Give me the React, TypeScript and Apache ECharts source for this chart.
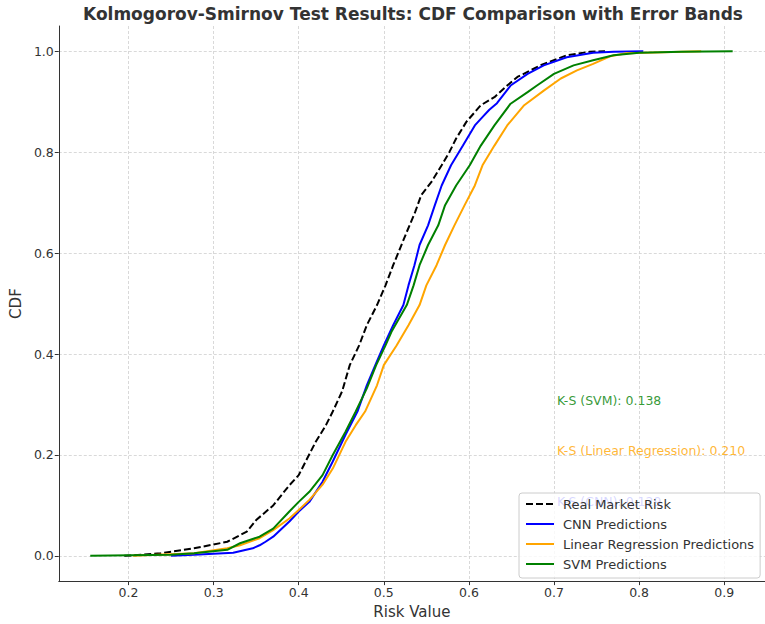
import React, { useEffect, useRef } from "react";
import * as echarts from "echarts";

const TITLE = "Kolmogorov-Smirnov Test Results: CDF Comparison with Error Bands";
const X_TICKS = [0.2, 0.3, 0.4, 0.5, 0.6, 0.7, 0.8, 0.9];
const Y_TICKS = [0.0, 0.2, 0.4, 0.6, 0.8, 1.0];

const REAL_X = [0.195, 0.238, 0.277, 0.316, 0.339, 0.35, 0.37, 0.389, 0.4, 0.409, 0.42, 0.432, 0.44, 0.451, 0.46, 0.471, 0.48, 0.492, 0.502, 0.511, 0.519, 0.527, 0.537, 0.544, 0.556, 0.568, 0.577, 0.585, 0.597, 0.614, 0.63, 0.645, 0.657, 0.684, 0.715, 0.742, 0.76];
const REAL_Y = [0.0, 0.005, 0.015, 0.028, 0.048, 0.071, 0.1, 0.14, 0.16, 0.19, 0.226, 0.259, 0.286, 0.326, 0.378, 0.417, 0.457, 0.497, 0.536, 0.576, 0.609, 0.642, 0.682, 0.715, 0.741, 0.774, 0.8, 0.827, 0.86, 0.893, 0.909, 0.932, 0.949, 0.972, 0.992, 0.999, 1.0];

const CNN_X = [0.25, 0.277, 0.323, 0.346, 0.354, 0.361, 0.37, 0.389, 0.4, 0.4125, 0.428, 0.44, 0.455, 0.469, 0.48, 0.49, 0.5, 0.511, 0.523, 0.529, 0.536, 0.542, 0.552, 0.56, 0.568, 0.579, 0.593, 0.607, 0.614, 0.624, 0.633, 0.649, 0.669, 0.688, 0.715, 0.746, 0.77, 0.805];
const CNN_Y = [0.0, 0.002, 0.006, 0.015, 0.021, 0.028, 0.038, 0.068, 0.088, 0.107, 0.147, 0.187, 0.24, 0.286, 0.338, 0.378, 0.417, 0.457, 0.497, 0.536, 0.576, 0.616, 0.655, 0.695, 0.734, 0.774, 0.813, 0.853, 0.866, 0.884, 0.897, 0.932, 0.955, 0.972, 0.988, 0.997, 0.999, 1.0];

const LR_X = [0.205, 0.277, 0.316, 0.331, 0.354, 0.37, 0.389, 0.4, 0.4125, 0.428, 0.44, 0.455, 0.467, 0.478, 0.492, 0.5, 0.515, 0.529, 0.542, 0.55, 0.562, 0.572, 0.583, 0.595, 0.607, 0.616, 0.63, 0.645, 0.665, 0.688, 0.708, 0.727, 0.746, 0.766, 0.785, 0.873];
const LR_Y = [0.0, 0.005, 0.015, 0.021, 0.035, 0.051, 0.074, 0.091, 0.111, 0.141, 0.173, 0.226, 0.259, 0.286, 0.338, 0.378, 0.417, 0.457, 0.497, 0.536, 0.576, 0.616, 0.655, 0.695, 0.734, 0.774, 0.813, 0.853, 0.893, 0.922, 0.946, 0.962, 0.975, 0.99, 0.996, 1.0];

const SVM_X = [0.155, 0.25, 0.277, 0.316, 0.331, 0.354, 0.37, 0.389, 0.4, 0.4125, 0.428, 0.44, 0.455, 0.467, 0.48, 0.491, 0.502, 0.509, 0.527, 0.535, 0.542, 0.552, 0.564, 0.572, 0.585, 0.601, 0.614, 0.63, 0.649, 0.669, 0.68, 0.7, 0.723, 0.746, 0.77, 0.8, 0.85, 0.91];
const SVM_Y = [0.0, 0.002, 0.005, 0.012, 0.025, 0.038, 0.054, 0.088, 0.107, 0.127, 0.16, 0.2, 0.246, 0.286, 0.332, 0.378, 0.417, 0.444, 0.497, 0.536, 0.576, 0.616, 0.655, 0.695, 0.734, 0.774, 0.813, 0.853, 0.896, 0.919, 0.932, 0.955, 0.972, 0.982, 0.992, 0.997, 0.999, 1.0];

const KS_LABELS = ["K-S (SVM): 0.138", "K-S (Linear Regression): 0.210", "K-S (CNN): 0.129"];
const KS_X = [0.7, 0.7, 0.7];
const KS_Y = [0.3, 0.2, 0.1];
const KS_COLORS = ["#008000", "#FFA500", "#0000FF"];

const FONT = "DejaVu Sans";

function zip(xs: number[], ys: number[]) {
  return xs.map((x, i) => [x, ys[i]]);
}

export default function App() {
  const ref = useRef<HTMLDivElement>(null);
  useEffect(() => {
    if (!ref.current) return;
    const chart = echarts.init(ref.current, undefined, { renderer: "svg" });
    const lineSeries = (name: string, xs: number[], ys: number[], color: string, type: any) => ({
      name,
      type: "line",
      data: zip(xs, ys),
      symbol: "none",
      showSymbol: false,
      smooth: false,
      z: 3,
      lineStyle: { color, width: 2, type },
      itemStyle: { color },
    });
    chart.setOption({
      animation: false,
      backgroundColor: "#ffffff",
      textStyle: { fontFamily: FONT },
      graphic: [
        {
          type: "text",
          x: 413,
          y: 5,
          style: {
            text: TITLE,
            fontFamily: FONT,
            fontWeight: "bold",
            fontSize: 17,
            fill: "#333333",
            textAlign: "center",
          },
        },
      ],
      grid: { left: 57, top: 26, width: 712, height: 557, containLabel: false },
      xAxis: {
        type: "value",
        min: 0.118,
        max: 0.948,
        name: "Risk Value",
        nameLocation: "middle",
        nameGap: 20,
        nameTextStyle: { fontFamily: FONT, fontSize: 15, color: "#333333" },
        axisLine: { show: true, onZero: false, lineStyle: { color: "#333333", width: 1 } },
        axisTick: { show: true, length: 4, customValues: X_TICKS, lineStyle: { color: "#333333" } },
        axisLabel: {
          customValues: X_TICKS,
          margin: 5,
          fontFamily: FONT,
          fontSize: 12.5,
          color: "#333333",
          formatter: (v: number) => v.toFixed(1),
        },
        splitLine: { show: true, lineStyle: { color: "#cfcfcf", width: 0.8, type: [3, 2] } },
      },
      yAxis: {
        type: "value",
        min: -0.05,
        max: 1.05,
        name: "CDF",
        nameLocation: "middle",
        nameGap: 29,
        nameRotate: 90,
        nameTextStyle: { fontFamily: FONT, fontSize: 15, color: "#333333" },
        axisLine: { show: true, onZero: false, lineStyle: { color: "#333333", width: 1 } },
        axisTick: { show: true, length: 4, customValues: Y_TICKS, lineStyle: { color: "#333333" } },
        axisLabel: {
          customValues: Y_TICKS,
          margin: 5,
          fontFamily: FONT,
          fontSize: 12.5,
          color: "#333333",
          formatter: (v: number) => v.toFixed(1),
        },
        splitLine: { show: true, lineStyle: { color: "#cfcfcf", width: 0.8, type: [3, 2] } },
      },
      legend: {
        data: ["Real Market Risk", "CNN Predictions", "Linear Regression Predictions", "SVM Predictions"],
        orient: "vertical",
        left: 519,
        top: 493,
        padding: [4, 6, 7, 6],
        itemWidth: 28,
        itemHeight: 14,
        itemGap: 6,
        backgroundColor: "rgba(255,255,255,0.8)",
        borderColor: "#cccccc",
        borderWidth: 1,
        borderRadius: 3,
        z: 10,
        itemStyle: { opacity: 0 },
        textStyle: { fontFamily: FONT, fontSize: 13, color: "#333333", padding: [0, 0, 0, 4], lineHeight: 14 },
      },
      series: [
        lineSeries("Real Market Risk", REAL_X, REAL_Y, "#000000", [7, 3]),
        lineSeries("CNN Predictions", CNN_X, CNN_Y, "#0000FF", "solid"),
        lineSeries("Linear Regression Predictions", LR_X, LR_Y, "#FFA500", "solid"),
        lineSeries("SVM Predictions", SVM_X, SVM_Y, "#008000", "solid"),
        {
          name: "ks",
          type: "scatter",
          symbolSize: 0,
          z: 1,
          silent: true,
          data: KS_X.map((x, i) => ({
            value: [x, KS_Y[i]],
            label: {
              show: true,
              position: "right",
              distance: 0,
              offset: [3, -4],
              formatter: KS_LABELS[i],
              color: KS_COLORS[i],
              fontFamily: FONT,
              fontSize: 12.5,
            },
          })),
        },
      ],
    });
    return () => chart.dispose();
  }, []);
  return (
    <div
      ref={ref}
      style={{ position: "fixed", left: 0, top: 0, width: 765, height: 624, background: "#fff" }}
    />
  );
}
